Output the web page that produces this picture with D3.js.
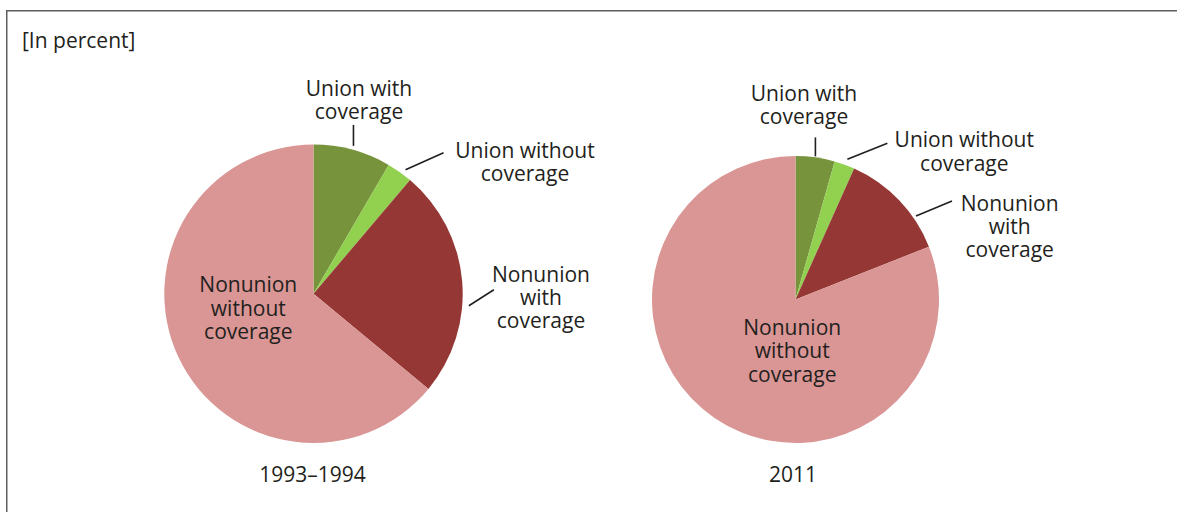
<!DOCTYPE html>
<html>
<head>
<meta charset="utf-8">
<script src="https://cdn.jsdelivr.net/npm/d3@7"></script>
<style>
  html, body { margin: 0; padding: 0; background: #ffffff; }
  svg { display: block; }
  text { font-family: "Open Sans", "Noto Sans", sans-serif; fill: #231f20; }
</style>
</head>
<body>
<script>
// ---- Data ----
const categories = ["Union with coverage", "Union without coverage", "Nonunion with coverage", "Nonunion without coverage"];
const labelLines = [["Union with", "coverage"], ["Union without", "coverage"], ["Nonunion", "with", "coverage"], ["Nonunion", "without", "coverage"]];
const periods = ["1993–1994", "2011"];
const values1993 = [8.4, 2.8, 24.8, 64.0];
const values2011 = [4.4, 2.3, 12.3, 81.0];
const unitNote = "[In percent]";

// ---- Styles / layout ----
const colors = ["#77933c", "#92d050", "#953735", "#d99694"];
const W = 1177, H = 512;
const fontSize = 21, lineH = 23.3;

const layouts = [
  { cx: 313.5, cy: 293.8, r: 149.2, year: [-1, 188.2],
    labels: [
      { pos: [45.5, -197.8], leader: { angle: null, rad: 4, d: [0, -21] } },
      { pos: [211.5, -136.3], leader: { angle: 36.6, rad: 5.2, d: [38, -17] } },
      { pos: [227.5, -12.1], leader: { angle: 94.4, rad: 6.6, d: [25, -16] } },
      { pos: [-65.2, -1.5], leader: null }
    ] },
  { cx: 795.5, cy: 299.5, r: 143.5, year: [-2.5, 182.5],
    labels: [
      { pos: [8.5, -198.8], leader: { angle: null, rad: 1, d: [0, -19] } },
      { pos: [168.8, -152.2], leader: { angle: 20.3, rad: 6, d: [40, -16] } },
      { pos: [214.2, -88.8], leader: { angle: 55.3, rad: 3.1, d: [36, -15] } },
      { pos: [-3.3, 35.5], leader: null }
    ] }
];

const svg = d3.select("body").append("svg").attr("width", W).attr("height", H);

// frame
svg.append("rect")
  .attr("x", 6.75).attr("y", 10.75)
  .attr("width", W + 20).attr("height", H + 20)
  .attr("fill", "none").attr("stroke", "#5e5e5e").attr("stroke-width", 1.5);

svg.append("text").attr("x", 22).attr("y", 47.5)
  .attr("font-size", fontSize).text(unitNote);

const pie = d3.pie().sort(null).value(d => d);
const allValues = [values1993, values2011];
const rad = Math.PI / 180;

allValues.forEach((vals, pi) => {
  const L = layouts[pi];
  const g = svg.append("g").attr("transform", `translate(${L.cx},${L.cy})`);
  const arcs = pie(vals);
  const arc = d3.arc().innerRadius(0).outerRadius(L.r);

  g.selectAll("path").data(arcs).enter().append("path")
    .attr("d", arc)
    .attr("fill", (d, i) => colors[i]);

  arcs.forEach((a, i) => {
    const lab = L.labels[i];
    if (lab.leader) {
      const ang = lab.leader.angle === null ? (a.startAngle + a.endAngle) / 2 : lab.leader.angle * rad;
      const rr = L.r + lab.leader.rad;
      const x0 = rr * Math.sin(ang), y0 = -rr * Math.cos(ang);
      g.append("line")
        .attr("x1", x0).attr("y1", y0)
        .attr("x2", x0 + lab.leader.d[0]).attr("y2", y0 + lab.leader.d[1])
        .attr("stroke", "#231f20").attr("stroke-width", 1.6);
    }
    const t = g.append("text")
      .attr("text-anchor", "middle")
      .attr("font-size", fontSize);
    labelLines[i].forEach((ln, k) => {
      t.append("tspan").attr("x", lab.pos[0]).attr("y", lab.pos[1] + k * lineH).text(ln);
    });
  });

  g.append("text")
    .attr("x", L.year[0]).attr("y", L.year[1])
    .attr("text-anchor", "middle")
    .attr("font-size", fontSize)
    .text(periods[pi]);
});
</script>
</body>
</html>
